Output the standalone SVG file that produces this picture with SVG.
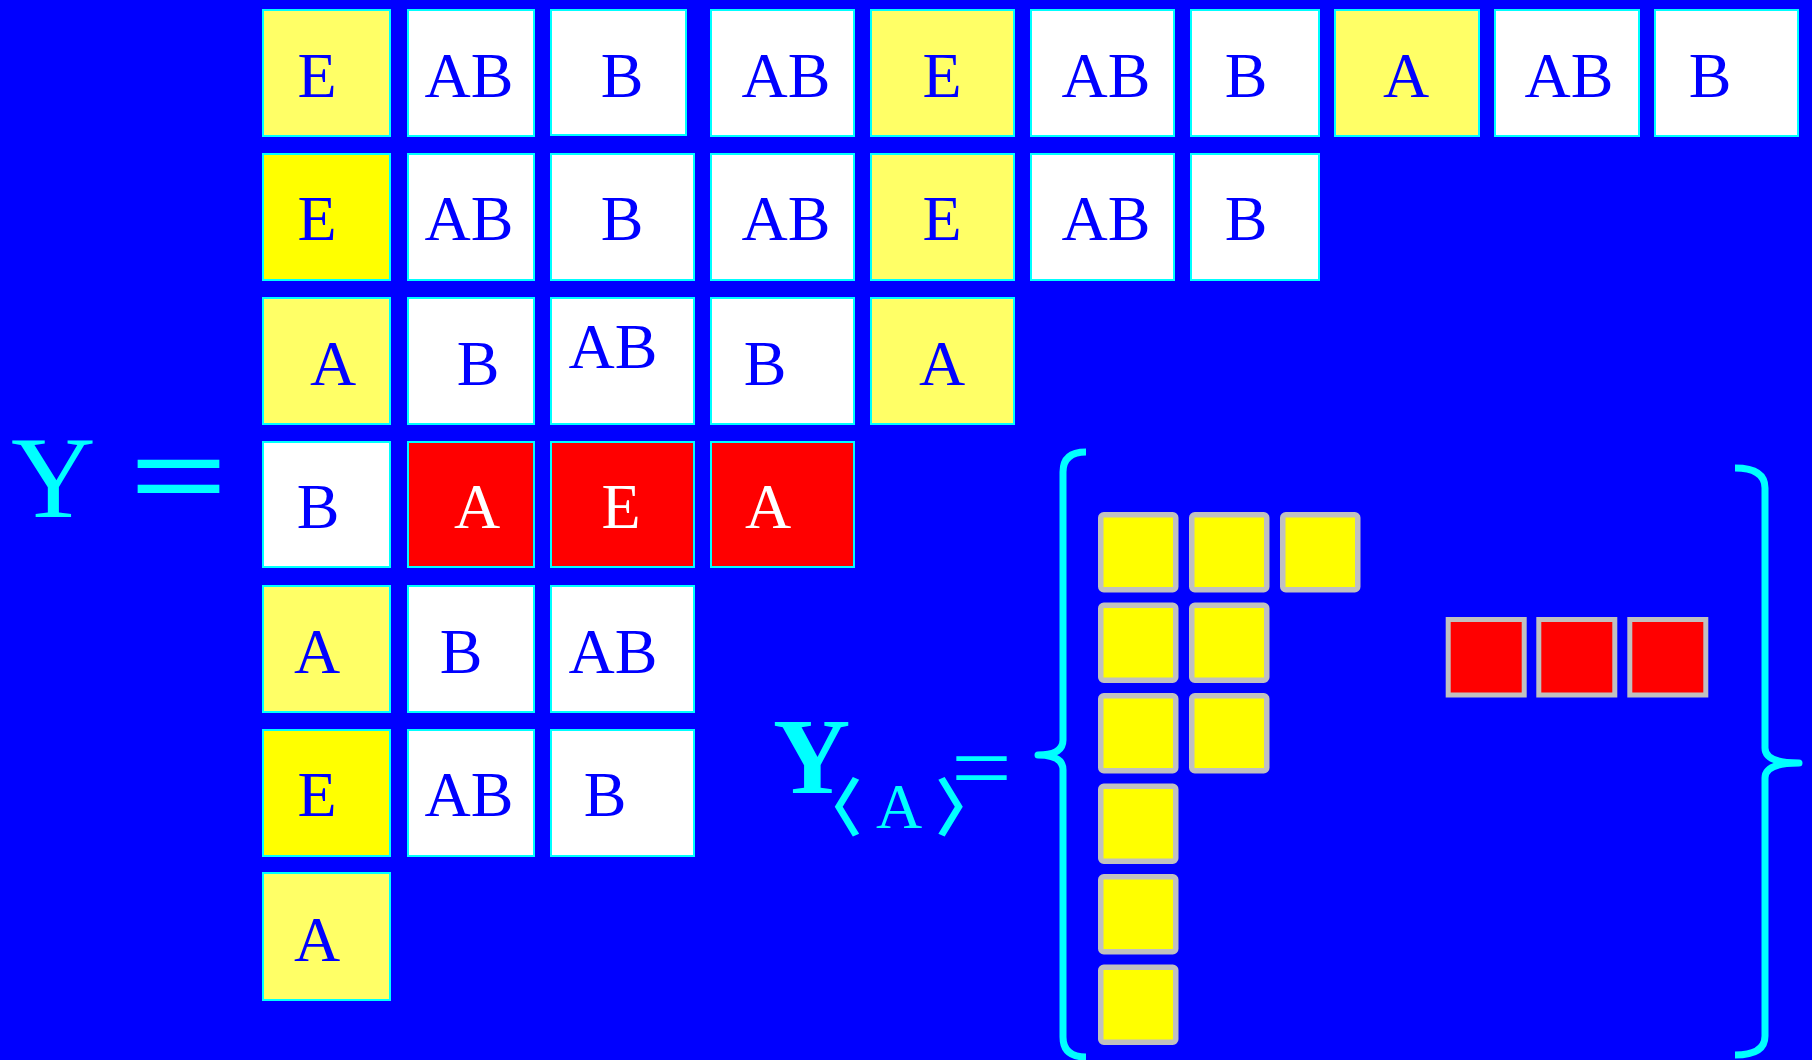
<svg xmlns="http://www.w3.org/2000/svg" width="1812" height="1060" viewBox="0 0 1812 1060">
<style>
.cell rect{stroke:#00FFFF;stroke-width:2}
.ly{fill:#FFFF66}.yb{fill:#FFFF00}.w{fill:#FFFFFF}.r{fill:#FF0000}
.t{font-family:"Liberation Serif","Times New Roman",serif;font-size:64px;fill:#0000FF;text-anchor:middle}
.tw{fill:#FFFFFF}
.sq{fill:#FFFF00;stroke:#C0C0C0;stroke-width:5.5}
.rq{fill:#FF0000;stroke:#C0C0C0;stroke-width:5}
.cy{fill:#00FFFF;font-family:"Liberation Serif","Times New Roman",serif}
.br{fill:#00FFFF;font-family:"Noto Sans CJK JP","Noto Sans CJK SC",sans-serif;font-size:63px;font-weight:700}
.brace{fill:none;stroke:#00FFFF;stroke-width:7;stroke-linecap:butt;stroke-linejoin:round}
</style>
<rect x="0" y="0" width="1812" height="1060" fill="#0000FF"/>

<g id="formula-left">
<text class="cy" x="11" y="517" font-size="117">Y</text>
<text class="cy" transform="translate(130.5,517.6) scale(1.03,0.76)" x="0" y="0" font-size="165" stroke="#00FFFF" stroke-width="2.5">=</text>
</g>

<g id="grid">
<g id="r1c1" class="cell"><rect class="ly" x="263" y="10" width="127" height="126"/><text class="t" x="317" y="97">E</text></g>
<g id="r1c2" class="cell"><rect class="w" x="408" y="10" width="126" height="126"/><text class="t" x="469" y="97">AB</text></g>
<g id="r1c3" class="cell"><rect class="w" x="551" y="10" width="135" height="125"/><text class="t" x="622" y="97">B</text></g>
<g id="r1c4" class="cell"><rect class="w" x="711" y="10" width="143" height="126"/><text class="t" x="786" y="97">AB</text></g>
<g id="r1c5" class="cell"><rect class="ly" x="871" y="10" width="143" height="126"/><text class="t" x="942" y="97">E</text></g>
<g id="r1c6" class="cell"><rect class="w" x="1031" y="10" width="143" height="126"/><text class="t" x="1106" y="97">AB</text></g>
<g id="r1c7" class="cell"><rect class="w" x="1191" y="10" width="128" height="126"/><text class="t" x="1246" y="97">B</text></g>
<g id="r1c8" class="cell"><rect class="ly" x="1335" y="10" width="144" height="126"/><text class="t" x="1406" y="97">A</text></g>
<g id="r1c9" class="cell"><rect class="w" x="1495" y="10" width="144" height="126"/><text class="t" x="1569" y="97">AB</text></g>
<g id="r1c10" class="cell"><rect class="w" x="1655" y="10" width="143" height="126"/><text class="t" x="1710" y="97">B</text></g>

<g id="r2c1" class="cell"><rect class="yb" x="263" y="154" width="127" height="126"/><text class="t" x="317" y="240">E</text></g>
<g id="r2c2" class="cell"><rect class="w" x="408" y="154" width="126" height="126"/><text class="t" x="469" y="240">AB</text></g>
<g id="r2c3" class="cell"><rect class="w" x="551" y="154" width="143" height="126"/><text class="t" x="622" y="240">B</text></g>
<g id="r2c4" class="cell"><rect class="w" x="711" y="154" width="143" height="126"/><text class="t" x="786" y="240">AB</text></g>
<g id="r2c5" class="cell"><rect class="ly" x="871" y="154" width="143" height="126"/><text class="t" x="942" y="240">E</text></g>
<g id="r2c6" class="cell"><rect class="w" x="1031" y="154" width="143" height="126"/><text class="t" x="1106" y="240">AB</text></g>
<g id="r2c7" class="cell"><rect class="w" x="1191" y="154" width="128" height="126"/><text class="t" x="1246" y="240">B</text></g>

<g id="r3c1" class="cell"><rect class="ly" x="263" y="298" width="127" height="126"/><text class="t" x="333" y="385">A</text></g>
<g id="r3c2" class="cell"><rect class="w" x="408" y="298" width="126" height="126"/><text class="t" x="478" y="385">B</text></g>
<g id="r3c3" class="cell"><rect class="w" x="551" y="298" width="143" height="126"/><text class="t" x="613" y="368">AB</text></g>
<g id="r3c4" class="cell"><rect class="w" x="711" y="298" width="143" height="126"/><text class="t" x="765" y="385">B</text></g>
<g id="r3c5" class="cell"><rect class="ly" x="871" y="298" width="143" height="126"/><text class="t" x="942" y="385">A</text></g>

<g id="r4c1" class="cell"><rect class="w" x="263" y="442" width="127" height="125"/><text class="t" x="318" y="528">B</text></g>
<g id="r4c2" class="cell"><rect class="r" x="408" y="442" width="126" height="125"/><text class="t tw" x="477" y="528">A</text></g>
<g id="r4c3" class="cell"><rect class="r" x="551" y="442" width="143" height="125"/><text class="t tw" x="621" y="528">E</text></g>
<g id="r4c4" class="cell"><rect class="r" x="711" y="442" width="143" height="125"/><text class="t tw" x="768" y="528">A</text></g>

<g id="r5c1" class="cell"><rect class="ly" x="263" y="586" width="127" height="126"/><text class="t" x="317" y="673">A</text></g>
<g id="r5c2" class="cell"><rect class="w" x="408" y="586" width="126" height="126"/><text class="t" x="461" y="673">B</text></g>
<g id="r5c3" class="cell"><rect class="w" x="551" y="586" width="143" height="126"/><text class="t" x="613" y="673">AB</text></g>

<g id="r6c1" class="cell"><rect class="yb" x="263" y="730" width="127" height="126"/><text class="t" x="317" y="816">E</text></g>
<g id="r6c2" class="cell"><rect class="w" x="408" y="730" width="126" height="126"/><text class="t" x="469" y="816">AB</text></g>
<g id="r6c3" class="cell"><rect class="w" x="551" y="730" width="143" height="126"/><text class="t" x="605" y="816">B</text></g>

<g id="r7c1" class="cell"><rect class="ly" x="263" y="873" width="127" height="127"/><text class="t" x="317" y="961">A</text></g>
</g>

<g id="formula-sub">
<text class="cy" x="773" y="793" font-size="107" font-weight="bold">Y</text>
<text class="br" x="799.5" y="830">〈</text>
<text class="cy" x="899" y="828" font-size="64" text-anchor="middle">A</text>
<text class="br" x="935" y="830">〉</text>
<text class="cy" transform="translate(951,798.9) scale(1,0.86)" x="0" y="0" font-size="108">=</text>
</g>

<g id="connectors">
<path class="brace" d="M1086,452 Q1063,452 1063,472 L1063,740 Q1063,755 1038,755 Q1063,755 1063,770 L1063,1037 Q1063,1057 1086,1057"/>
<path class="brace" d="M1735,468 Q1765,468 1765,488 L1765,748 Q1765,763 1799,763 Q1765,763 1765,778 L1765,1036 Q1765,1055 1735,1055"/>
</g>

<g id="yellow-tableau">
<rect class="sq" x="1100.75" y="514.75" width="75" height="75" rx="3"/>
<rect class="sq" x="1191.75" y="514.75" width="75" height="75" rx="3"/>
<rect class="sq" x="1282.75" y="514.75" width="75" height="75" rx="3"/>
<rect class="sq" x="1100.75" y="605.25" width="75" height="75" rx="3"/>
<rect class="sq" x="1191.75" y="605.25" width="75" height="75" rx="3"/>
<rect class="sq" x="1100.75" y="695.75" width="75" height="75" rx="3"/>
<rect class="sq" x="1191.75" y="695.75" width="75" height="75" rx="3"/>
<rect class="sq" x="1100.75" y="786.25" width="75" height="75" rx="3"/>
<rect class="sq" x="1100.75" y="876.75" width="75" height="75" rx="3"/>
<rect class="sq" x="1100.75" y="967.25" width="75" height="75" rx="3"/>
</g>

<g id="red-row">
<rect class="rq" x="1448.2" y="619.5" width="76" height="75.5"/>
<rect class="rq" x="1538.8" y="619.5" width="76" height="75.5"/>
<rect class="rq" x="1629.8" y="619.5" width="76" height="75.5"/>
</g>
</svg>
